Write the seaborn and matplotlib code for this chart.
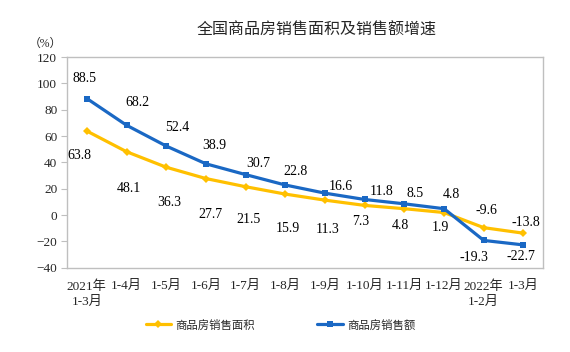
import numpy as np
import pandas as pd
import matplotlib
matplotlib.use("Agg")
import matplotlib.pyplot as plt
import seaborn as sns

months = ["2021年\n1-3月", "1-4月", "1-5月", "1-6月", "1-7月", "1-8月",
          "1-9月", "1-10月", "1-11月", "1-12月", "2022年\n1-2月", "1-3月"]
area = [63.8, 48.1, 36.3, 27.7, 21.5, 15.9, 11.3, 7.3, 4.8, 1.9, -9.6, -13.8]
sales = [88.5, 68.2, 52.4, 38.9, 30.7, 22.8, 16.6, 11.8, 8.5, 4.8, -19.3, -22.7]
area_name = "商品房销售面积"
sales_name = "商品房销售额"

# label offsets in pixels (dx, dy), dy up positive
area_off = [(-7, -24), (2, -37), (3, -35), (5, -36), (3, -33), (3, -34),
            (3, -29), (-4, -16), (-4, -17), (-4, -15), (3, 17), (2, 11)]
sales_off = [(-2, 20), (11, 23), (11, 19), (8, 18), (13, 11), (10, 14),
             (16, 7), (17, 8), (11, 10), (7, 14), (-10, -17), (-3, -12)]

sns.set_theme(style="white")
plt.rcParams['font.family'] = ['Liberation Serif', 'Noto Sans CJK SC']

yellow = '#FFC000'
blue = '#1A68C4'
grey = '#BFBFBF'

df = pd.DataFrame({'x': np.arange(len(months)), 'area': area, 'sales': sales})

fig = plt.figure(figsize=(5.7, 3.52), dpi=100)
ax = fig.add_axes([0.1175, 0.2395, 0.8357, 0.5985])

sns.lineplot(data=df, x='x', y='area', ax=ax, color=yellow, linewidth=2.3,
             marker='D', markersize=4.5, markeredgewidth=0, label=area_name)
sns.lineplot(data=df, x='x', y='sales', ax=ax, color=blue, linewidth=2.3,
             marker='s', markersize=4.5, markeredgewidth=0, label=sales_name)

for i, v in enumerate(area):
    ax.annotate(f"{v}", (i, v), xytext=area_off[i], textcoords='offset pixels',
                ha='center', va='center', fontsize=10, color='black')
for i, v in enumerate(sales):
    ax.annotate(f"{v}", (i, v), xytext=sales_off[i], textcoords='offset pixels',
                ha='center', va='center', fontsize=10, color='black')

ax.set_xlim(-0.5, len(months) - 0.5)
ax.set_ylim(-40, 120)
ax.set_yticks(range(-40, 121, 20))
ax.set_xticks(range(len(months)))
ax.set_xticklabels(months, fontsize=9.5, linespacing=1.3)
ax.set_xticks(np.arange(0.5, len(months) - 1, 1), minor=True)
ax.tick_params(axis='x', which='major', length=0, pad=9)
ax.tick_params(axis='x', which='minor', direction='in', length=4, color=grey, width=0.8)
ax.tick_params(axis='y', which='major', direction='out', length=4, color=grey,
               width=0.8, labelsize=9.5, pad=3, left=True)
ax.set_xlabel('')
ax.set_ylabel('')
for s in ax.spines.values():
    s.set_color(grey)
    s.set_linewidth(1.0)

fig.text(0.08, 0.875, "（%）", fontsize=8.5, ha='center', va='center')
fig.text(0.556, 0.915, "全国商品房销售面积及销售额增速", fontsize=11.5,
         ha='center', va='center', family=['Noto Sans CJK SC'])

ax.legend_.remove()
handles, labels = ax.get_legend_handles_labels()
fig.legend(handles, labels, loc='center', bbox_to_anchor=(0.492, 0.077), ncol=2,
           frameon=False, fontsize=8.2, handlelength=2.2, columnspacing=5.5,
           handletextpad=0.4)

fig.savefig('out.png', dpi=100)
